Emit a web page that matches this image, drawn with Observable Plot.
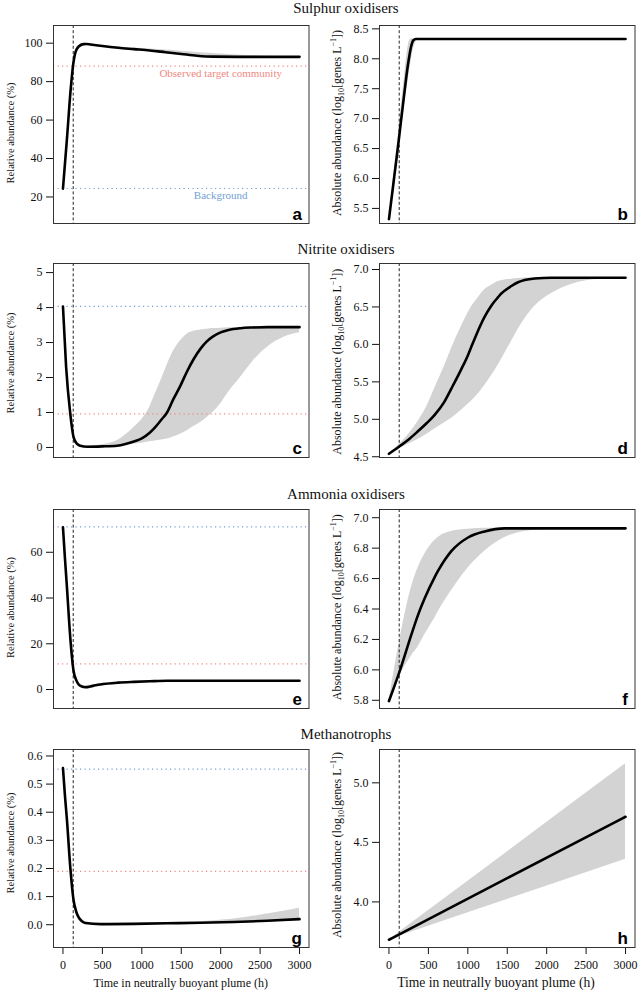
<!DOCTYPE html>
<html><head><meta charset="utf-8">
<script src="https://cdn.jsdelivr.net/npm/d3@7"></script>
<script src="https://cdn.jsdelivr.net/npm/@observablehq/plot@0.6"></script>
<style>
body{margin:0;background:#fff;}
#fig{position:relative;width:638px;height:990px;overflow:hidden;background:#fff;}
#fig svg{position:absolute;}
#fig svg text{font-family:'Liberation Serif','Times New Roman',Times,serif;}
</style></head><body><div id="fig"></div>
<script>
// ---------- data ----------
const groups = ["Sulphur oxidisers", "Nitrite oxidisers", "Ammonia oxidisers", "Methanotrophs"];
const panelLetters = ["a", "b", "c", "d", "e", "f", "g", "h"];
const xTicks = [0, 500, 1000, 1500, 2000, 2500, 3000];
const plumeEntry = [130];
const relLabel = "Relative abundance (%)";
const xTitle = "Time in neutrally buoyant plume (h)";
const annTarget = "Observed target community";
const annBackground = "Background";

// a: sulphur oxidisers, relative
const tA = [0, 50, 100, 130, 160, 200, 260, 300, 350, 500, 700, 900, 1100, 1300, 1500, 1700, 1900, 2200, 2600, 3000];
const lineA = [24.3, 50, 77, 89, 95.5, 98.3, 99.5, 99.6, 99.3, 98.5, 97.6, 96.9, 96.2, 95.3, 94.4, 93.5, 93.0, 92.9, 92.9, 92.9];
const hiA = [24.3, 51, 79, 90.5, 96.5, 98.8, 99.6, 99.7, 99.5, 98.8, 98.0, 97.5, 97.0, 96.4, 95.8, 95.2, 94.6, 93.9, 93.2, 92.95];
const loA = [24.3, 48, 74, 87, 94, 97.6, 99.2, 99.4, 99.1, 98.3, 97.4, 96.6, 95.8, 94.8, 93.8, 93.1, 92.8, 92.8, 92.85, 92.9];
const refA = {target: 88.1, background: 24.4};
const ticksA = [20, 40, 60, 80, 100];

// b: sulphur oxidisers, absolute
const tB = [0, 50, 100, 127, 150, 200, 230, 250, 260, 280, 290, 300, 310, 340, 380, 500, 3000];
const lineB = [5.32, 5.85, 6.38, 6.67, 6.93, 7.48, 7.8, 7.98, 8.06, 8.2, 8.25, 8.29, 8.31, 8.33, 8.33, 8.33, 8.33];
const hiB = [5.32, 5.9, 6.5, 6.83, 7.12, 7.75, 8.1, 8.25, 8.3, 8.33, 8.33, 8.33, 8.33, 8.33, 8.33, 8.33, 8.33];
const loB = [5.32, 5.78, 6.27, 6.52, 6.75, 7.25, 7.52, 7.7, 7.78, 7.95, 8.03, 8.1, 8.16, 8.27, 8.33, 8.33, 8.33];
const ticksB = [5.5, 6.0, 6.5, 7.0, 7.5, 8.0, 8.5];

// c: nitrite oxidisers, relative
const tC = [0, 40, 93, 135, 180, 220, 305, 500, 685, 900, 1000, 1100, 1150, 1250, 1320, 1400, 1490, 1575, 1658, 1750, 1828, 1900, 2000, 2100, 2250, 2400, 2600, 2800, 3000];
const lineC = [4.03, 2.3, 0.96, 0.29, 0.1, 0.05, 0.02, 0.03, 0.05, 0.17, 0.26, 0.42, 0.53, 0.8, 1.0, 1.38, 1.77, 2.18, 2.53, 2.84, 3.04, 3.17, 3.29, 3.36, 3.41, 3.43, 3.44, 3.44, 3.44];
const hiC = [4.03, 2.4, 1.05, 0.35, 0.13, 0.07, 0.04, 0.08, 0.19, 0.57, 0.8, 1.15, 1.42, 1.95, 2.35, 2.75, 3.05, 3.24, 3.32, 3.36, 3.38, 3.40, 3.41, 3.42, 3.43, 3.44, 3.44, 3.44, 3.44];
const loC = [4.03, 2.2, 0.87, 0.24, 0.07, 0.03, 0.01, 0.02, 0.04, 0.1, 0.12, 0.16, 0.18, 0.21, 0.24, 0.3, 0.38, 0.48, 0.6, 0.72, 0.86, 1.0, 1.25, 1.58, 2.0, 2.44, 2.88, 3.15, 3.28];
const refC = {target: 0.958, background: 4.035};
const ticksC = [0, 1, 2, 3, 4, 5];

// d: nitrite oxidisers, absolute
const tD = [0, 135, 250, 368, 480, 580, 700, 791, 918, 1003, 1045, 1100, 1214, 1300, 1384, 1426, 1553, 1637, 1722, 1849, 2061, 2314, 2500, 2695, 3000];
const lineD = [4.54, 4.64, 4.73, 4.84, 4.95, 5.06, 5.23, 5.41, 5.67, 5.86, 5.97, 6.11, 6.37, 6.52, 6.63, 6.68, 6.78, 6.83, 6.86, 6.88, 6.89, 6.89, 6.89, 6.89, 6.89];
const hiD = [4.54, 4.67, 4.8, 4.97, 5.17, 5.41, 5.7, 5.94, 6.24, 6.42, 6.5, 6.58, 6.73, 6.79, 6.84, 6.85, 6.87, 6.88, 6.885, 6.89, 6.89, 6.89, 6.89, 6.89, 6.89];
const loD = [4.54, 4.61, 4.67, 4.73, 4.8, 4.87, 4.95, 5.01, 5.12, 5.2, 5.24, 5.3, 5.45, 5.58, 5.72, 5.8, 6.04, 6.2, 6.34, 6.51, 6.68, 6.8, 6.85, 6.87, 6.88];
const ticksD = [4.5, 5.0, 5.5, 6.0, 6.5, 7.0];

// e: ammonia oxidisers, relative
const tE = [0, 25, 51, 93, 135, 170, 199, 240, 283, 380, 474, 700, 897, 1100, 1320, 3000];
const lineE = [70.9, 57.5, 44.4, 22.6, 8.0, 4.0, 2.2, 1.3, 1.0, 1.6, 2.2, 3.0, 3.35, 3.6, 3.8, 3.8];
const hiE = [70.9, 58.5, 46, 25, 10.5, 5.5, 3.3, 2.0, 1.6, 2.0, 2.6, 3.3, 3.55, 3.7, 3.82, 3.8];
const loE = [70.9, 56.5, 43, 20.5, 6.2, 2.8, 1.4, 0.8, 0.6, 1.2, 1.8, 2.7, 3.15, 3.5, 3.75, 3.8];
const refE = {target: 11.2, background: 71.1};
const ticksE = [0, 20, 40, 60];

// f: ammonia oxidisers, absolute
const tF = [0, 135, 283, 368, 453, 580, 622, 791, 1003, 1214, 1468, 1722, 2061, 3000];
const lineF = [5.795, 5.99, 6.23, 6.36, 6.47, 6.61, 6.65, 6.78, 6.87, 6.91, 6.93, 6.93, 6.93, 6.93];
const hiF = [5.795, 6.19, 6.54, 6.67, 6.76, 6.85, 6.87, 6.91, 6.925, 6.93, 6.93, 6.93, 6.93, 6.93];
const loF = [5.795, 5.96, 6.09, 6.15, 6.23, 6.34, 6.38, 6.52, 6.67, 6.78, 6.87, 6.91, 6.925, 6.93];
const ticksF = [5.8, 6.0, 6.2, 6.4, 6.6, 6.8, 7.0];

// g: methanotrophs, relative
const tG = [0, 25, 51, 93, 135, 170, 199, 240, 283, 474, 900, 1320, 1743, 2166, 2590, 3000];
const lineG = [0.557, 0.46, 0.371, 0.204, 0.086, 0.045, 0.026, 0.012, 0.006, 0.002, 0.003, 0.005, 0.007, 0.0095, 0.014, 0.020];
const hiG = [0.557, 0.47, 0.385, 0.225, 0.105, 0.06, 0.037, 0.02, 0.011, 0.004, 0.005, 0.007, 0.011, 0.02, 0.038, 0.059];
const loG = [0.557, 0.45, 0.36, 0.188, 0.072, 0.035, 0.019, 0.008, 0.004, 0.001, 0.002, 0.004, 0.005, 0.007, 0.010, 0.014];
const refG = {target: 0.19, background: 0.553};
const ticksG = [0.0, 0.1, 0.2, 0.3, 0.4, 0.5, 0.6];

// h: methanotrophs, absolute
const tH = [0, 1500, 3000];
const lineH = [3.682, 4.199, 4.715];
const hiH = [3.682, 4.42, 5.16];
const loH = [3.682, 4.02, 4.358];
const ticksH = [4.0, 4.5, 5.0];

// ---------- layout ----------
const fig = document.getElementById("fig");
const serif = "Liberation Serif";
const sans = "Liberation Sans";
const targetColor = "#ee8a82";
const backgroundColor = "#729fd4";
const cols = [{left: 53, right: 308.5}, {left: 379, right: 634.5}];
const rows = [{top: 25, bottom: 223}, {top: 263, bottom: 457}, {top: 508.5, bottom: 707.5}, {top: 749, bottom: 947}];

const panels = [
  {col: 0, row: 0, t: tA, line: lineA, hi: hiA, lo: loA, ticks: ticksA, fmt: d3.format("d"), dom: [6.2, 109.2], ref: refA, ann: true, yc: 133},
  {col: 1, row: 0, t: tB, line: lineB, hi: hiB, lo: loB, ticks: ticksB, fmt: d3.format(".1f"), dom: [5.248, 8.556], yc: 123},
  {col: 0, row: 1, t: tC, line: lineC, hi: hiC, lo: loC, ticks: ticksC, fmt: d3.format("d"), dom: [-0.287, 5.26], ref: refC, yc: 363},
  {col: 1, row: 1, t: tD, line: lineD, hi: hiD, lo: loD, ticks: ticksD, fmt: d3.format(".1f"), dom: [4.49, 7.08], yc: 361.7},
  {col: 0, row: 2, t: tE, line: lineE, hi: hiE, lo: loE, ticks: ticksE, fmt: d3.format("d"), dom: [-8.3, 78.7], ref: refE, yc: 607},
  {col: 1, row: 2, t: tF, line: lineF, hi: hiF, lo: loF, ticks: ticksF, fmt: d3.format(".1f"), dom: [5.746, 7.054], yc: 606.7},
  {col: 0, row: 3, t: tG, line: lineG, hi: hiG, lo: loG, ticks: ticksG, fmt: d3.format(".1f"), dom: [-0.081, 0.623], ref: refG, yc: 843},
  {col: 1, row: 3, t: tH, line: lineH, hi: hiH, lo: loH, ticks: ticksH, fmt: d3.format(".1f"), dom: [3.617, 5.28], yc: 845}
];

panels.forEach((p, i) => {
  const c = cols[p.col], r = rows[p.row];
  const x0 = p.col * 319;
  const bottomAxis = p.row === 3;
  const mt = 12, mb = bottomAxis ? 55 : 8;
  const height = (r.bottom - r.top) + mt + mb;
  const data = p.t.map((t, k) => ({t, y: p.line[k], lo: p.lo[k], hi: p.hi[k]}));
  const marks = [
    Plot.areaY(data, {x: "t", y1: "lo", y2: "hi", fill: "#d3d3d3", curve: "monotone-x"})
  ];
  if (p.ref) {
    marks.push(Plot.ruleY([p.ref.target], {stroke: targetColor, strokeDasharray: "1.2,3.3", strokeWidth: 1.2}));
    marks.push(Plot.ruleY([p.ref.background], {stroke: backgroundColor, strokeDasharray: "1.2,3.3", strokeWidth: 1.2}));
  }
  if (p.ann) {
    marks.push(Plot.text([annTarget], {x: 2000, y: p.ref.target, dy: 7.5, text: d => d, fill: targetColor, fontSize: 11, fontFamily: serif}));
    marks.push(Plot.text([annBackground], {x: 2000, y: p.ref.background, dy: 7, text: d => d, fill: backgroundColor, fontSize: 11, fontFamily: serif}));
  }
  marks.push(Plot.ruleX(plumeEntry, {stroke: "#222", strokeDasharray: "3,2.2", strokeWidth: 1}));
  marks.push(Plot.line(data, {x: "t", y: "y", stroke: "#000", strokeWidth: 2.6, curve: "monotone-x"}));
  marks.push(Plot.axisY({ticks: p.ticks, tickFormat: p.fmt, tickSize: 7, tickPadding: 4, label: null, fontFamily: serif, fontSize: 12}));
  if (bottomAxis) marks.push(Plot.axisX({ticks: xTicks, tickFormat: d3.format("d"), tickSize: 7, tickPadding: 6, label: null, fontFamily: serif, fontSize: 12}));
  else marks.push(Plot.axisX({ticks: [], label: null}));
  marks.push(Plot.frame({stroke: "#333", strokeWidth: 1}));
  marks.push(Plot.text([panelLetters[i]], {frameAnchor: "bottom-right", text: d => d, dx: -7, dy: -4, fontFamily: sans, fontWeight: "bold", fontSize: 17, fill: "#000"}));

  const svg = Plot.plot({
    width: 319, height,
    marginLeft: c.left - x0, marginRight: x0 + 319 - c.right,
    marginTop: mt, marginBottom: mb,
    x: {domain: [-120, 3120]},
    y: {domain: p.dom},
    style: {fontFamily: serif, fontSize: "12px", background: "transparent", color: "#111", overflow: "visible"},
    marks
  });
  const svgTop = r.top - mt;
  svg.style.left = x0 + "px";
  svg.style.top = svgTop + "px";
  fig.appendChild(svg);
  // panel letter in sans-serif bold
  d3.select(svg).selectAll("text").filter(function () { return this.textContent === panelLetters[i]; })
    .style("font-family", "'Liberation Sans', Arial, sans-serif");

  const s = d3.select(svg);
  if (p.col === 0) {
    s.append("text").attr("transform", `translate(14,${p.yc - svgTop}) rotate(-90)`)
      .attr("text-anchor", "middle").attr("font-size", 10.5).attr("fill", "#111")
      .text(relLabel);
  } else {
    const t = s.append("text").attr("transform", `translate(${340.5 - 319},${p.yc - svgTop}) rotate(-90)`)
      .attr("text-anchor", "middle").attr("font-size", 12).attr("fill", "#111");
    t.append("tspan").text("Absolute abundance (log");
    t.append("tspan").attr("font-size", 8).attr("dy", 3).text("10");
    t.append("tspan").attr("dy", -3).text("[genes L");
    t.append("tspan").attr("font-size", 8).attr("dy", -4.5).text("\u22121");
    t.append("tspan").attr("dy", 4.5).text("])");
  }
  if (bottomAxis) {
    const cx = p.col === 0 ? (c.left + c.right) / 2 : 496;
    s.append("text").attr("x", cx - x0).attr("y", 987 - svgTop)
      .attr("text-anchor", "middle").attr("font-size", p.col === 0 ? 12 : 13.6).attr("fill", "#111")
      .text(xTitle);
  }
});

// group titles
const over = d3.select(fig).append("svg").attr("width", 638).attr("height", 990)
  .style("left", "0px").style("top", "0px").style("pointer-events", "none");
const titleBaselines = [12.7, 254, 499.3, 739];
groups.forEach((g, i) => {
  over.append("text").attr("x", 346).attr("y", titleBaselines[i]).attr("text-anchor", "middle")
    .attr("font-size", 15).attr("fill", "#111").text(g);
});
</script></body></html>
